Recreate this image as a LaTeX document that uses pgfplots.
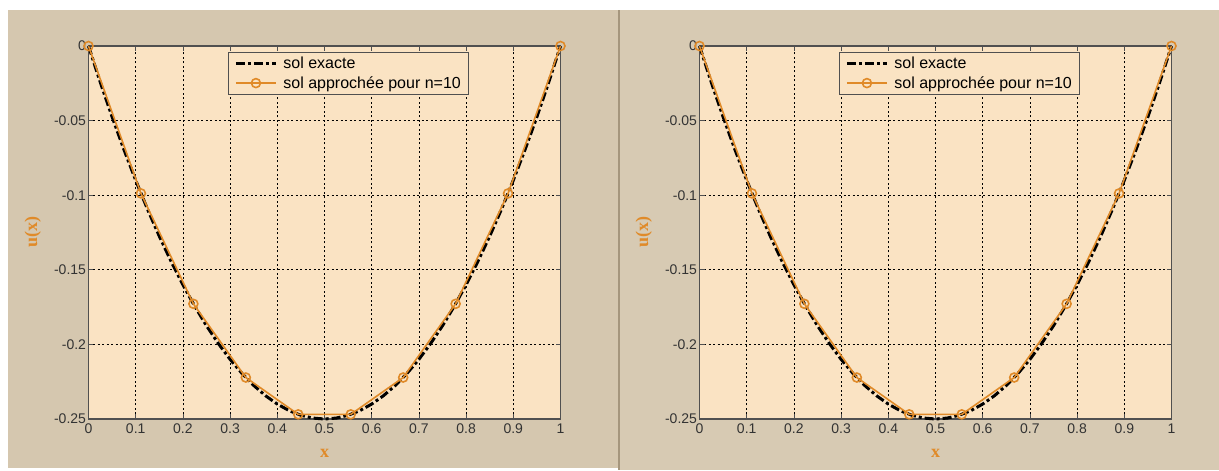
\documentclass[border=0pt]{standalone}
\usepackage{fontspec}
\setmainfont{Liberation Sans}
\newfontfamily\serifb{Liberation Serif}
\usepackage{pgfplots}
\usepackage{pgfplotstable}
\pgfplotsset{compat=1.18}
\definecolor{outerbg}{RGB}{213,199,175}
\definecolor{outerbgR}{RGB}{215,202,179}
\definecolor{axbg}{RGB}{250,227,195}
\definecolor{orng}{RGB}{224,138,40}
\definecolor{axline}{RGB}{80,80,80}
\definecolor{divider}{RGB}{165,150,125}

\pgfplotstableread{
x y
0 0
0.025 -0.024375
0.05 -0.0475
0.075 -0.069375
0.1 -0.09
0.125 -0.109375
0.15 -0.1275
0.175 -0.144375
0.2 -0.16
0.225 -0.174375
0.25 -0.1875
0.275 -0.199375
0.3 -0.21
0.325 -0.219375
0.35 -0.2275
0.375 -0.234375
0.4 -0.24
0.425 -0.244375
0.45 -0.2475
0.475 -0.249375
0.5 -0.25
0.525 -0.249375
0.55 -0.2475
0.575 -0.244375
0.6 -0.24
0.625 -0.234375
0.65 -0.2275
0.675 -0.219375
0.7 -0.21
0.725 -0.199375
0.75 -0.1875
0.775 -0.174375
0.8 -0.16
0.825 -0.144375
0.85 -0.1275
0.875 -0.109375
0.9 -0.09
0.925 -0.069375
0.95 -0.0475
0.975 -0.024375
1 0
}\exact

\pgfplotstableread{
x y
0 0
0.1111 -0.0988
0.2222 -0.1728
0.3333 -0.2222
0.4444 -0.2469
0.5556 -0.2469
0.6667 -0.2222
0.7778 -0.1728
0.8889 -0.0988
1 0
}\approxsol

\pgfplotsset{
  panel/.style={
    scale only axis, width=472pt, height=373pt,
    xmin=0, xmax=1, ymin=-0.25, ymax=0,
    clip=false,
    axis background/.style={fill=axbg},
    axis line style={axline, line width=1.2pt},
    xtick={0,0.1,0.2,0.3,0.4,0.5,0.6,0.7,0.8,0.9,1},
    xticklabels={0,0.1,0.2,0.3,0.4,0.5,0.6,0.7,0.8,0.9,1},
    ytick={-0.25,-0.2,-0.15,-0.1,-0.05,0},
    yticklabels={-0.25,-0.2,-0.15,-0.1,-0.05,0},
    tick align=inside, major tick length=5pt,
    tick style={axline, line width=0.8pt},
    grid=major,
    major grid style={black, line width=0.7pt, dash pattern=on 2pt off 2.5pt},
    ticklabel style={font=\fontsize{14}{16}\selectfont, text=black!80},
    xticklabel style={yshift=-1pt},
    yticklabel style={xshift=1pt},
    xlabel={x}, ylabel={u(x)},
    label style={font=\serifb\bfseries\fontsize{18}{20}\selectfont, text=orng},
    xlabel style={at={(axis description cs:0.5,-0.091)}, anchor=center},
    ylabel style={at={(axis description cs:-0.118,0.5)}, anchor=center},
    legend style={at={(0.2956,0.984)}, anchor=north west, draw=axline, line width=0.8pt,
      fill=axbg, font=\fontsize{16}{18}\selectfont, row sep=2pt, column sep=4pt,
      inner xsep=6pt, inner ysep=3pt},
    legend cell align=left,
    legend image code/.code={\draw[mark repeat=2,mark phase=2,#1] plot coordinates {(0pt,0pt) (20pt,0pt) (40pt,0pt)};},
  },
  exactstyle/.style={black, line width=3pt, dash pattern=on 9pt off 3pt on 3pt off 3pt},
  approxstyle/.style={orng, line width=1.6pt, mark=o, mark size=4.5pt, mark options={solid, fill=none}},
}

\begin{document}
\begin{tikzpicture}[x=1pt,y=1pt]
\fill[white] (0,0) rectangle (1219,470);
\fill[outerbg] (8,2) rectangle (619,460);
\fill[outerbgR] (620,0) rectangle (1219,460);
\draw[divider, line width=2pt] (619,0) -- (619,460);

\begin{axis}[panel, at={(88.5pt,51pt)}, anchor=south west]
\addplot[exactstyle] table[x=x,y=y] {\exact};
\addlegendentry{sol exacte}
\addplot[approxstyle] table[x=x,y=y] {\approxsol};
\addlegendentry{sol approchée pour n=10}
\end{axis}

\begin{axis}[panel, at={(699.5pt,51pt)}, anchor=south west]
\addplot[exactstyle] table[x=x,y=y] {\exact};
\addlegendentry{sol exacte}
\addplot[approxstyle] table[x=x,y=y] {\approxsol};
\addlegendentry{sol approchée pour n=10}
\end{axis}
\end{tikzpicture}
\end{document}
